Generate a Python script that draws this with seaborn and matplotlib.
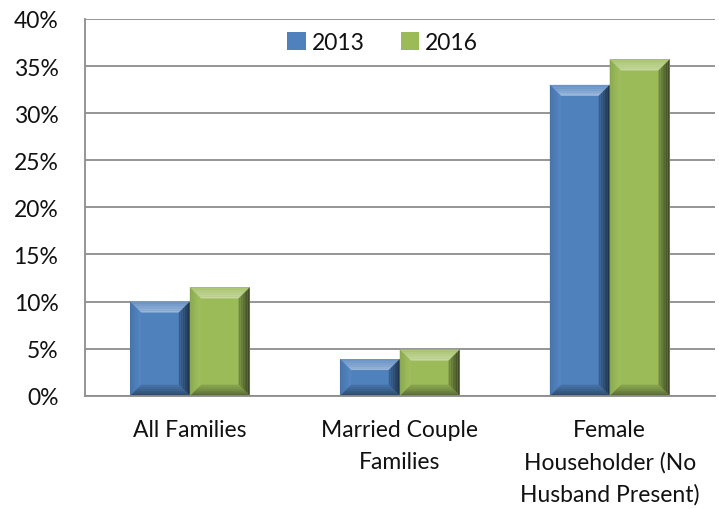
import pandas as pd
import matplotlib.pyplot as plt
import numpy as np
import seaborn as sns
from matplotlib.patches import Polygon
from matplotlib.colors import to_rgb

# data (percent)
categories = ['All Families', 'Married Couple\nFamilies', 'Female\nHouseholder (No\nHusband Present)']
years = ['2013', '2016']
values_2013 = [10.0, 3.9, 33.0]
values_2016 = [11.5, 4.9, 35.7]

df = pd.DataFrame({
    'category': categories * 2,
    'year': [years[0]] * 3 + [years[1]] * 3,
    'pct': values_2013 + values_2016,
})

colors = {'2013': '#4F81BD', '2016': '#9BBB59'}

sns.set_style('white')
plt.rcParams['font.family'] = ['Lato', 'DejaVu Sans']

fig = plt.figure(figsize=(7.19, 5.10), dpi=100)
ax = fig.add_axes([0.118, 0.222, 0.876, 0.739])

sns.barplot(data=df, x='category', y='pct', hue='year', palette=colors,
            width=0.57, gap=0, ax=ax, saturation=1, edgecolor='none', linewidth=0)

ax.set_ylim(0, 40)
ax.set_xlim(-0.5, 2.5)
ax.set_yticks(np.arange(0, 41, 5))
ax.set_yticklabels([f'{v}%' for v in range(0, 41, 5)], fontsize=16.5, color='#111111')
ax.tick_params(axis='x', which='major', length=0, labelsize=16.5, pad=17, labelcolor='#111111')
for t in ax.get_xticklabels():
    t.set_linespacing(1.6)
ax.set_xticks([-0.5, 0.5, 1.5, 2.5], minor=True)
ax.tick_params(axis='x', which='minor', length=6, width=1.2, color='#8c8c8c', direction='out')
ax.tick_params(axis='y', length=6, width=1.2, color='#8c8c8c', direction='out', pad=13)
ax.set_xlabel('')
ax.set_ylabel('')
ax.yaxis.grid(True, color='#8c8c8c', linewidth=1.3)
ax.set_axisbelow(True)
for s in ['top', 'right']:
    ax.spines[s].set_visible(False)
for s in ['left', 'bottom']:
    ax.spines[s].set_color('#8c8c8c')
    ax.spines[s].set_linewidth(1.3)


def shade(c, f):
    r, g, b = to_rgb(c)
    if f >= 0:
        return (r + (1 - r) * f, g + (1 - g) * f, b + (1 - b) * f)
    return (r * (1 + f), g * (1 + f), b * (1 + f))


def bevel(ax, patch, px=11, steps=6):
    x0, y0 = patch.get_x(), patch.get_y()
    w, h = patch.get_width(), patch.get_height()
    if h <= 0:
        return
    c = patch.get_facecolor()
    inv = ax.transData.inverted()
    p0 = inv.transform((0, 0))
    p1 = inv.transform((px, px))
    dx = p1[0] - p0[0]
    dy = min(p1[1] - p0[1], h / 2.6)
    x1, y1 = x0 + w, y0 + h
    # (outer shade, inner shade) per face: top, right, bottom, left
    fs = [(0.15, 0.45), (-0.62, -0.25), (-0.45, -0.12), (-0.12, 0.05)]
    z = patch.get_zorder() + 0.1
    for i in range(steps):
        a, b = i / steps, (i + 1) / steps
        ox0, ox1 = x0 + dx * a, x1 - dx * a
        oy0, oy1 = y0 + dy * a, y1 - dy * a
        ix0, ix1 = x0 + dx * b, x1 - dx * b
        iy0, iy1 = y0 + dy * b, y1 - dy * b
        faces = [
            [(ox0, oy1), (ox1, oy1), (ix1, iy1), (ix0, iy1)],
            [(ox1, oy1), (ox1, oy0), (ix1, iy0), (ix1, iy1)],
            [(ox0, oy0), (ox1, oy0), (ix1, iy0), (ix0, iy0)],
            [(ox0, oy0), (ox0, oy1), (ix0, iy1), (ix0, iy0)],
        ]
        t = (i + 0.5) / steps
        for pts, (fo, fi) in zip(faces, fs):
            ax.add_patch(Polygon(pts, closed=True, facecolor=shade(c, fo + (fi - fo) * t),
                                 edgecolor='none', zorder=z, antialiased=True))


fig.canvas.draw()
for p in ax.patches[:]:
    if isinstance(p, plt.Rectangle):
        bevel(ax, p)

leg = ax.legend(loc='upper center', bbox_to_anchor=(0.473, 1.02), ncol=2, frameon=False,
                fontsize=16.5, handlelength=0.8, handleheight=0.8, handletextpad=0.25,
                columnspacing=1.6, labelcolor='#111111')

fig.savefig('out.png', dpi=100)
